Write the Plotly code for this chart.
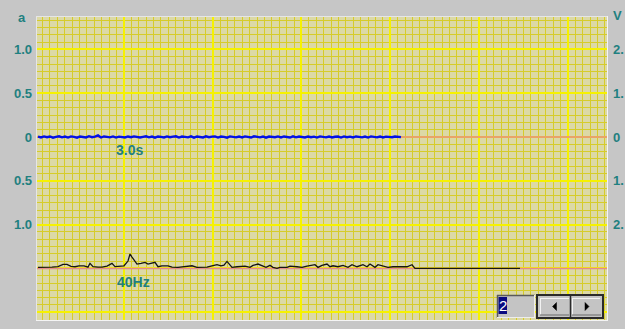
import plotly.graph_objects as go

# ---------------- data ----------------
left_tick_vals = [1.0, 0.5, 0.0, -0.5, -1.0, -1.5, -2.0]
left_tick_text = ["1.0", "0.5", "0", "0.5", "1.0", "", ""]
right_tick_text = ["2.", "1.", "0", "1.", "2.", "", ""]

x_start, x_end = 2, 572          # sample positions shown
blue_x0, blue_dx = 3, 3          # sample grid of the time trace
blue_y = [0.004, -0.005, 0.007, -0.003, 0.006, -0.007, 0.002, 0.008, -0.004, 0.005,
          -0.006, 0.007, 0.001, -0.008, 0.006, 0.004, -0.005, 0.009, -0.002, 0.005,
          0.018, -0.006, 0.006, 0.002, -0.004, 0.007, -0.006, 0.004, 0.001, -0.005,
          0.006, -0.002, 0.007, 0.004, -0.006, 0.002, 0.008, -0.004, 0.005, -0.007,
          0.006, 0.001, -0.005, 0.007, -0.002, 0.004, 0.008, -0.006, 0.005, 0.002,
          -0.004, 0.007, -0.007, 0.006, 0.001, -0.005, 0.008, -0.002, 0.004, 0.006,
          -0.006, 0.005, 0.002, -0.008, 0.007, 0.004, -0.004, 0.006, -0.005, 0.007,
          0.001, -0.006, 0.008, 0.002, -0.004, 0.006, -0.007, 0.005, 0.004, -0.002,
          0.007, -0.005, 0.006, 0.001, -0.006, 0.008, -0.004, 0.005, 0.002, -0.005,
          0.006, -0.003, 0.004, -0.006, 0.007, 0.002, -0.004, 0.006, -0.005, 0.003,
          0.005, -0.006, 0.007, -0.002, 0.004, -0.005, 0.006, 0.001, -0.004, 0.005,
          -0.006, 0.007, 0.002, -0.004, 0.006, -0.005, 0.004, 0.002, -0.003, 0.005,
          0.001, -0.002]
blue_x = [blue_x0 + i * blue_dx for i in range(len(blue_y))]

spec_x = [3, 10, 17, 23, 28, 32, 36, 40, 44, 49, 53, 55, 58, 63, 67, 72, 77, 80, 85, 89,
          93, 95, 97, 99, 102, 106, 110, 113, 117, 120, 123, 127, 133, 137, 143, 148, 153, 157, 162, 167,
          172, 177, 182, 186, 189, 192, 195, 197, 202, 205, 210, 215, 218, 223, 227, 231, 235, 238, 242, 245,
          252, 255, 262, 267, 272, 280, 283, 287, 292, 295, 298, 303, 308, 313, 317, 322, 328, 332, 335, 340,
          343, 348, 353, 358, 365, 372, 377, 380, 485]
spec_y = [-1.488, -1.488, -1.485, -1.479, -1.454, -1.454, -1.477, -1.481, -1.470, -1.470,
          -1.485, -1.442, -1.479, -1.485, -1.485, -1.473, -1.442, -1.479, -1.470, -1.470,
          -1.416, -1.336, -1.370, -1.405, -1.450, -1.442, -1.431, -1.450, -1.439, -1.431,
          -1.481, -1.470, -1.470, -1.485, -1.488, -1.481, -1.481, -1.470, -1.488, -1.485,
          -1.485, -1.470, -1.458, -1.470, -1.462, -1.420, -1.462, -1.488, -1.481, -1.481,
          -1.473, -1.488, -1.465, -1.450, -1.473, -1.488, -1.465, -1.488, -1.500, -1.488,
          -1.488, -1.473, -1.481, -1.488, -1.473, -1.458, -1.488, -1.465, -1.450, -1.481,
          -1.470, -1.481, -1.465, -1.488, -1.458, -1.481, -1.458, -1.481, -1.450, -1.488,
          -1.458, -1.473, -1.488, -1.481, -1.481, -1.481, -1.458, -1.500, -1.500]

baselines = [0.0, -1.5]
time_label = "3.0s"
freq_label = "40Hz"
spin_value = "2"

# ---------------- style ----------------
W, H = 625, 329
ML, MR, MT, MB = 37, 18, 17, 9
PW, PH = W - ML - MR, H - MT - MB
TEAL = "#1f8080"
BG = "#c6c6c6"
PLOT_BG = "#dcd9a6"
MINOR = "#d6cc2a"
MAJOR = "#f6f200"
PINK = "#e48a8a"
FONT = "Liberation Sans"
YR = [-2.089, 1.370]


def px(xp, yp):
    return (xp - ML) / PW, (H - MB - yp) / PH


fig = go.Figure()
for b in baselines:
    fig.add_trace(go.Scatter(x=[x_start, x_end], y=[b, b], mode="lines",
                             line=dict(color=PINK, width=1.5),
                             hoverinfo="skip", showlegend=False))
fig.add_trace(go.Scatter(x=blue_x, y=blue_y, mode="lines",
                         line=dict(color="#0010e8", width=2.4), showlegend=False))
fig.add_trace(go.Scatter(x=spec_x, y=spec_y, mode="lines",
                         line=dict(color="#141414", width=1.3), showlegend=False))
# anchor for the right-hand (V) axis
fig.add_trace(go.Scatter(x=[x_start], y=[0], yaxis="y2", mode="markers",
                         marker=dict(opacity=0, size=1), hoverinfo="skip", showlegend=False))

shapes = []


def rect(x0, y0, x1, y1, fill=None, line=None, lw=1):
    a, b = px(x0, y1)
    c, d = px(x1, y0)
    shapes.append(dict(type="rect", xref="paper", yref="paper", x0=a, y0=b, x1=c, y1=d,
                       fillcolor=fill if fill else "rgba(0,0,0,0)",
                       line=dict(color=line if line else "rgba(0,0,0,0)", width=lw if line else 0)))


def seg(x0, y0, x1, y1, color, lw=1):
    a, b = px(x0, y0)
    c, d = px(x1, y1)
    shapes.append(dict(type="line", xref="paper", yref="paper", x0=a, y0=b, x1=c, y1=d,
                       line=dict(color=color, width=lw)))


def tri(pts):
    p = [px(*q) for q in pts]
    path = "M {} {} L {} {} L {} {} Z".format(p[0][0], p[0][1], p[1][0], p[1][1], p[2][0], p[2][1])
    shapes.append(dict(type="path", xref="paper", yref="paper", path=path,
                       fillcolor="#000000", line=dict(color="#000000", width=0.5)))


# frame around plot
seg(36, 16.5, 608, 16.5, "#e6e6e6", 1)
seg(36.5, 16, 36.5, 321, "#e6e6e6", 1)
seg(607.5, 16, 607.5, 321, "#f4f4f4", 1)
seg(36, 320.5, 608, 320.5, "#f4f4f4", 1)

# text box
rect(497, 295, 535, 318, fill="#c4c4c4")
seg(497, 295.5, 535, 295.5, "#5a5a5a", 1.5)
seg(497.5, 295, 497.5, 318, "#5a5a5a", 1.5)
seg(497, 317.5, 535, 317.5, "#eeeeee", 1)
seg(534.5, 295, 534.5, 318, "#eeeeee", 1)
rect(498.5, 297, 507, 314, fill="#0a0a80")
# spin buttons
rect(537, 295, 603, 318, fill="#c4c4c4", line="#2a2a2a", lw=2)
seg(570.5, 296, 570.5, 317, "#2a2a2a", 1.5)
seg(540, 298.5, 569, 298.5, "#f2f2f2", 1)
seg(540.5, 298, 540.5, 315, "#f2f2f2", 1)
seg(572, 298.5, 600, 298.5, "#f2f2f2", 1)
seg(572.5, 298, 572.5, 315, "#f2f2f2", 1)
seg(540, 315, 569, 315, "#6a6a6a", 1)
seg(572, 315, 601, 315, "#6a6a6a", 1)
tri([(556.5, 302.5), (556.5, 310.5), (552.5, 306.5)])
tri([(585, 302.5), (585, 310.5), (589, 306.5)])

annotations = [
    dict(text="a", xref="paper", yref="paper", x=0, y=1, xanchor="right", yanchor="middle",
         xshift=-9, yshift=0, showarrow=False, font=dict(family=FONT, size=13, color=TEAL, weight="bold")),
    dict(text="V", xref="paper", yref="paper", x=1, y=1, xanchor="left", yanchor="middle",
         xshift=4, yshift=2, showarrow=False, font=dict(family=FONT, size=13, color=TEAL, weight="bold")),
    dict(text=time_label, x=94, y=-0.148, xref="x", yref="y", showarrow=False,
         font=dict(family=FONT, size=14, color=TEAL, weight="bold")),
    dict(text=freq_label, x=98, y=-1.655, xref="x", yref="y", showarrow=False,
         font=dict(family=FONT, size=14, color=TEAL, weight="bold")),
    dict(text=spin_value, xref="paper", yref="paper", x=px(502.8, 0)[0], y=px(0, 305.5)[1],
         xanchor="center", yanchor="middle", showarrow=False,
         font=dict(family=FONT, size=15, color="#ffffff")),
]

tickfont = dict(family=FONT, size=13, color=TEAL, weight="bold")
fig.update_layout(
    template="none",
    width=W, height=H,
    margin=dict(l=ML, r=MR, t=MT, b=MB, pad=0),
    paper_bgcolor=BG, plot_bgcolor=PLOT_BG,
    showlegend=False,
    xaxis=dict(range=[x_start, x_end], tick0=0, dtick=88.8, showgrid=True, gridcolor=MAJOR,
               gridwidth=2, zeroline=False, showline=False, showticklabels=False, ticks="",
               automargin=False, fixedrange=True,
               minor=dict(tick0=0, dtick=7.4, showgrid=True, gridcolor=MINOR, gridwidth=1, ticks="")),
    yaxis=dict(range=YR, showgrid=True, gridcolor=MAJOR, gridwidth=2,
               zeroline=False, showline=False, tickmode="array", tickvals=left_tick_vals,
               ticktext=left_tick_text, tickfont=tickfont, ticks="", automargin=False,
               ticklabelstandoff=4, fixedrange=True,
               minor=dict(tick0=0, dtick=1 / 12, showgrid=True, gridcolor=MINOR, gridwidth=1, ticks="")),
    yaxis2=dict(range=YR, overlaying="y", side="right", showgrid=False, zeroline=False,
                showline=False, tickmode="array", tickvals=left_tick_vals, ticktext=right_tick_text,
                tickfont=tickfont, ticks="", automargin=False, ticklabelstandoff=5, fixedrange=True),
    shapes=shapes,
    annotations=annotations,
)

fig.write_html("out.html", config=dict(displayModeBar=False))
